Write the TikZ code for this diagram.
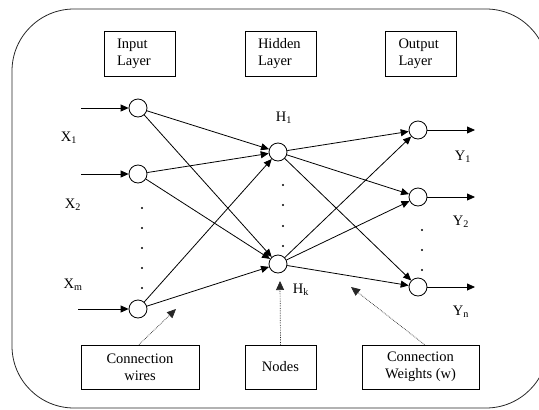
\documentclass[tikz,border=0pt]{standalone}
\usepackage{fontspec}
\setmainfont{Liberation Serif}
\usetikzlibrary{arrows.meta,positioning}

\begin{document}
\begin{tikzpicture}[x=1pt,y=1pt,
  box/.style={rectangle, draw=black, line width=0.8pt, minimum height=45pt, align=center,
    font=\fontsize{14.5}{17}\selectfont, inner sep=2pt},
  titlebox/.style={box, align=left, text width=45pt, inner xsep=13pt},
  neuron/.style={circle, draw=black, line width=0.8pt, minimum size=18pt, inner sep=0pt, fill=white},
  lbl/.style={font=\fontsize{14.5}{16}\selectfont, inner sep=0pt},
  arr/.style={-{Triangle[length=8pt,width=7pt]}, line width=0.8pt},
  ptr/.style={-{Triangle[length=9pt,width=8pt]}, densely dotted, line width=0.7pt, black!85},
  dotmark/.style={circle, fill=black, inner sep=0pt, minimum size=2.4pt}]

\useasboundingbox (0,0) rectangle (539,-410);
\draw[black!85, line width=0.8pt, rounded corners=62pt] (12,-9) rectangle (548,-408);

% layer titles
\node[titlebox] (tin) at (139.5,-53.5) {Input\\Layer};
\node[titlebox] (thid) at (280.5,-53.5) {Hidden\\Layer};
\node[titlebox] (tout) at (421,-53.5) {Output\\Layer};

% neurons
\node[neuron] (i1) at (138,-108) {};
\node[neuron] (i2) at (138,-174) {};
\node[neuron] (im) at (138,-309) {};
\node[neuron] (h1) at (278,-152) {};
\node[neuron] (hk) at (278,-264) {};
\node[neuron] (o1) at (418,-130) {};
\node[neuron] (o2) at (418,-197) {};
\node[neuron] (on) at (418,-287) {};

% free ends
\coordinate (xi1) at (81,-108);
\coordinate (xi2) at (81,-174);
\coordinate (xim) at (78,-309);
\coordinate (yo1) at (475,-130);
\coordinate (yo2) at (475,-197);
\coordinate (yon) at (475,-287);

\draw[arr] (xi1) -- (i1);
\draw[arr] (xi2) -- (i2);
\draw[arr] (xim) -- (im);
\draw[arr] (o1) -- (yo1);
\draw[arr] (o2) -- (yo2);
\draw[arr] (on) -- (yon);

\foreach \a in {i1,i2,im}
  \foreach \b in {h1,hk}
    \draw[arr] (\a) -- (\b);
\foreach \a in {h1,hk}
  \foreach \b in {o1,o2,on}
    \draw[arr] (\a) -- (\b);

% labels
\node[lbl] (lx1) at (69,-138) {X\textsubscript{1}};
\node[lbl] (lx2) at (73,-205) {X\textsubscript{2}};
\node[lbl] (lxm) at (73,-285) {X\textsubscript{m}};
\node[lbl] (lh1) at (284,-118) {H\textsubscript{1}};
\node[lbl] (lhk) at (301,-290) {H\textsubscript{k}};
\node[lbl] (ly1) at (463,-157) {Y\textsubscript{1}};
\node[lbl] (ly2) at (461,-222) {Y\textsubscript{2}};
\node[lbl] (lyn) at (461,-312) {Y\textsubscript{n}};

% dots
\foreach \y in {208,228,248,268,288}
  \node[dotmark] at (142,-\y) {};
\foreach \y in {185,205,226,246}
  \node[dotmark] at (283,-\y) {};
\foreach \y in {230,250,270}
  \node[dotmark] at (422,-\y) {};

% bottom notes
\node[box, minimum width=118pt, minimum height=44pt] (bwire) at (140,-367) {Connection\\wires};
\node[box, minimum width=71pt, minimum height=44pt] (bnode) at (280.5,-367) {Nodes};
\node[box, minimum width=117pt, minimum height=44pt] (bwgt) at (420.5,-367) {Connection\\Weights (w)};

\coordinate (pw) at (176,-309);
\coordinate (pn) at (280,-281);
\coordinate (pg) at (351,-287);
\draw[ptr] ([xshift=-1pt]bwire.north) -- (pw);
\draw[ptr] (bnode.north) -- (pn);
\draw[ptr] ([xshift=4pt]bwgt.north) -- (pg);
\end{tikzpicture}
\end{document}
